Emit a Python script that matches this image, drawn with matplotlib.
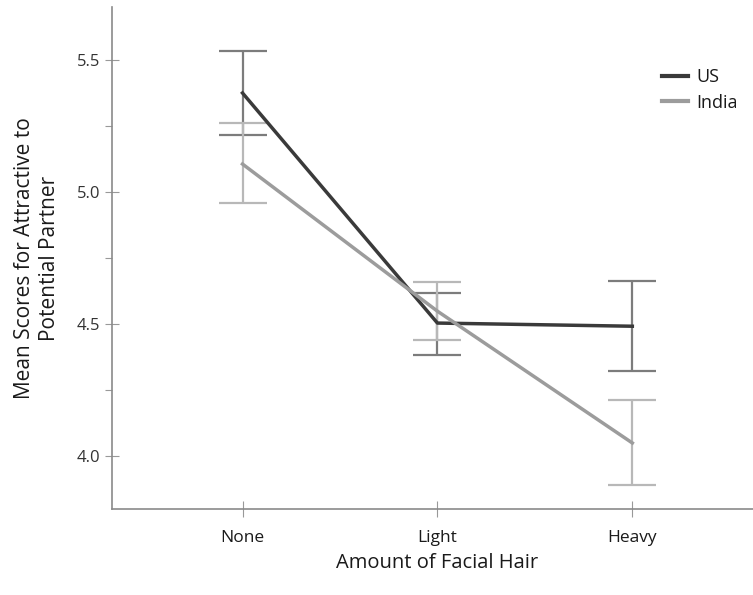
import matplotlib
matplotlib.use("Agg")
import matplotlib.pyplot as plt
from matplotlib.ticker import MultipleLocator

plt.rcParams["font.family"] = ["Open Sans", "DejaVu Sans"]

categories = ["None", "Light", "Heavy"]
us_mean = [5.375, 4.504, 4.492]
us_low = [5.216, 4.383, 4.322]
us_high = [5.534, 4.619, 4.663]
india_mean = [5.106, 4.549, 4.050]
india_low = [4.958, 4.439, 3.890]
india_high = [5.261, 4.660, 4.212]

fig = plt.figure(figsize=(7.53, 5.95), dpi=100)
ax = fig.add_axes([0.1494, 0.1445, 0.863, 0.8435])

x = list(range(len(categories)))


def draw(mean, low, high, line_col, bar_col, label):
    err = [[m - l for m, l in zip(mean, low)], [h - m for m, h in zip(mean, high)]]
    ax.errorbar(x, mean, yerr=err, fmt="none", ecolor=bar_col, elinewidth=1.6,
                capsize=17, capthick=1.6, zorder=2)
    ax.plot(x, mean, color=line_col, lw=2.5, label=label, zorder=3)


draw(us_mean, us_low, us_high, "#3a3a3a", "#7c7c7c", "US")
draw(india_mean, india_low, india_high, "#9c9c9c", "#b8b8b8", "India")

ax.set_xlim(-0.667, 2.667)
ax.set_ylim(3.8, 5.7)
ax.set_xticks(x)
ax.set_xticklabels(categories, fontsize=12.5, color="#1a1a1a")
ax.yaxis.set_major_locator(MultipleLocator(0.5))
ax.yaxis.set_minor_locator(MultipleLocator(0.25))
ax.yaxis.set_major_formatter(plt.FormatStrFormatter("%.1f"))
ax.tick_params(axis="y", labelsize=12, labelcolor="#333333", direction="inout",
               length=10, width=0.8, color="#999999", pad=4)
ax.tick_params(axis="y", which="minor", direction="out", length=5, width=0.8,
               color="#999999")
ax.tick_params(axis="x", direction="inout", length=12, width=0.8,
               color="#999999", pad=9)

for side in ["top", "right"]:
    ax.spines[side].set_visible(False)
for side in ["left", "bottom"]:
    ax.spines[side].set_color("#8a8a8a")
    ax.spines[side].set_linewidth(1.2)

ax.set_xlabel("Amount of Facial Hair", fontsize=14.5, color="#1a1a1a", labelpad=5)
ax.set_ylabel("Mean Scores for Attractive to\nPotential Partner", fontsize=15,
              color="#1a1a1a", labelpad=12, linespacing=1.25)

leg = ax.legend(loc="upper left", bbox_to_anchor=(0.845, 0.878), frameon=False,
                fontsize=13, handlelength=1.45, handletextpad=0.45,
                labelspacing=0.4, borderpad=0, borderaxespad=0)
for h in leg.get_lines():
    h.set_linewidth(3)
for t in leg.get_texts():
    t.set_color("#1a1a1a")

fig.savefig("out.png", dpi=100)
